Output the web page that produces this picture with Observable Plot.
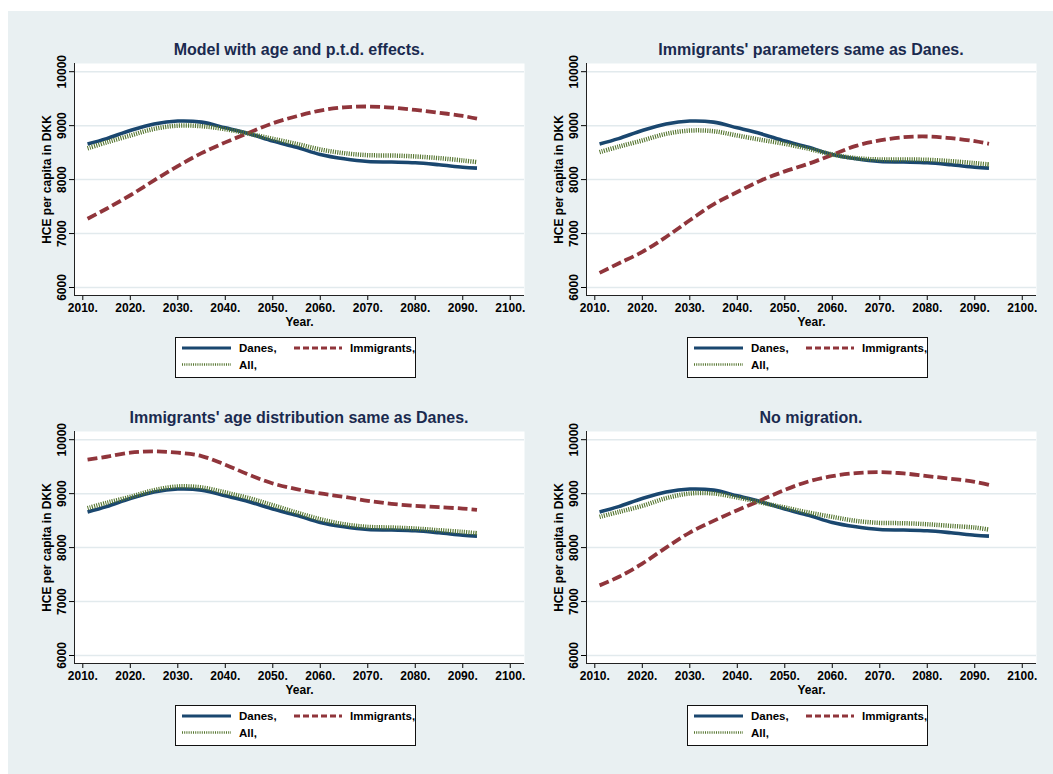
<!DOCTYPE html>
<html>
<head>
<meta charset="utf-8">
<script src="https://cdn.jsdelivr.net/npm/d3@7"></script>
<script src="https://cdn.jsdelivr.net/npm/@observablehq/plot@0.6"></script>
<style>
  body { margin: 0; background: #ffffff; }
  #fig { position: relative; width: 1053px; height: 774px; overflow: hidden;
         font-family: "Liberation Sans", Arial, sans-serif; }
  #bg { position: absolute; left: 8px; top: 11px; right: 0; bottom: 0; background: #e9f0f2; }
  .title { position: absolute; text-align: center; font-weight: bold; font-size: 16px;
           color: #1a2a4f; line-height: 20px; white-space: nowrap; }
  .panel, .legend { position: absolute; }
</style>
</head>
<body>
<div id="fig"><div id="bg"></div></div>
<script>
// Projection years
const years = [2011, 2015, 2020, 2025, 2030, 2035, 2040, 2045, 2050, 2055, 2060, 2065, 2070, 2075, 2080, 2085, 2090, 2093];

// HCE per capita (DKK) for Danes — identical in every scenario
const danes = [8660, 8760, 8910, 9030, 9085, 9065, 8960, 8850, 8715, 8600, 8465, 8385, 8335, 8325, 8312, 8275, 8230, 8212];

// Scenario: model with age and p.t.d. effects
const immigrantsModel = [7275, 7460, 7710, 7985, 8250, 8490, 8690, 8870, 9045, 9175, 9280, 9340, 9355, 9335, 9292, 9240, 9180, 9130];
const allModel        = [8580, 8690, 8817, 8940, 9000, 8990, 8935, 8850, 8756, 8663, 8558, 8490, 8453, 8447, 8429, 8398, 8355, 8324];

// Scenario: immigrants' parameters same as Danes
const immigrantsParams = [6272, 6445, 6660, 6937, 7246, 7542, 7770, 7985, 8152, 8294, 8460, 8625, 8725, 8786, 8799, 8768, 8712, 8663];
const allParams        = [8509, 8610, 8725, 8848, 8909, 8897, 8817, 8737, 8663, 8571, 8466, 8398, 8373, 8373, 8367, 8342, 8305, 8281];

// Scenario: immigrants' age distribution same as Danes
const immigrantsAge = [9629, 9684, 9759, 9783, 9759, 9697, 9536, 9350, 9189, 9084, 9003, 8941, 8867, 8811, 8774, 8749, 8724, 8700];
const allAge        = [8731, 8830, 8941, 9065, 9133, 9115, 9022, 8916, 8786, 8650, 8526, 8433, 8384, 8372, 8353, 8322, 8291, 8266];

// Scenario: no migration
const immigrantsNoMig = [7300, 7455, 7703, 8000, 8279, 8495, 8693, 8879, 9071, 9226, 9325, 9381, 9399, 9375, 9325, 9276, 9220, 9164];
const allNoMig        = [8570, 8660, 8774, 8916, 9003, 9003, 8929, 8836, 8743, 8650, 8570, 8495, 8458, 8452, 8433, 8402, 8372, 8334];

const panelTitles = [
  "Model with age and p.t.d. effects.",
  "Immigrants' parameters same as Danes.",
  "Immigrants' age distribution same as Danes.",
  "No migration."
];
const seriesNames = ["Danes,", "Immigrants,", "All,"];
const xTicks = [2010, 2020, 2030, 2040, 2050, 2060, 2070, 2080, 2090, 2100];
const yTicks = [6000, 7000, 8000, 9000, 10000];
const xLabel = "Year.";
const yLabel = "HCE per capita in DKK";

const panels = [
  {title: panelTitles[0], imm: immigrantsModel,  all: allModel,  col: 0, row: 0},
  {title: panelTitles[1], imm: immigrantsParams, all: allParams, col: 1, row: 0},
  {title: panelTitles[2], imm: immigrantsAge,    all: allAge,    col: 0, row: 1},
  {title: panelTitles[3], imm: immigrantsNoMig,  all: allNoMig,  col: 1, row: 1}
];

// Line styles: solid navy, dashed maroon, hatched-dot green
const styles = [
  {stroke: "#1a476f", strokeWidth: 3.6, dash: null,      legendWidth: 3.2, legendDash: null},
  {stroke: "#90353b", strokeWidth: 3.8, dash: "10,4",    legendWidth: 3.2, legendDash: "6,3"},
  {stroke: "#55752f", strokeWidth: 4.5, dash: "1.1,1.2", legendWidth: 2.6, legendDash: "1,1.2"}
];

const fig = document.getElementById("fig");
const xDomain = [2008.25, 2103];
const yDomain = [5852, 10152];

function series(values) {
  return years.map((year, i) => ({year, value: values[i]}));
}

for (const p of panels) {
  const ox = p.col * 512, oy = p.row * 368;

  const title = document.createElement("div");
  title.className = "title";
  title.style.left = (ox + 74) + "px";
  title.style.width = "450px";
  title.style.top = (oy + 40) + "px";
  title.textContent = p.title;
  fig.appendChild(title);

  const lineData = [danes, p.imm, p.all];
  const chart = Plot.plot({
    width: 510, height: 275,
    marginLeft: 54, marginRight: 6, marginTop: 8, marginBottom: 35,
    style: {background: "transparent", fontFamily: "'Liberation Sans', Arial, sans-serif",
            fontSize: "12px", fontWeight: "bold", color: "#000"},
    x: {domain: xDomain, ticks: xTicks, tickFormat: d => d + ".", tickSize: 5, tickPadding: 3, label: null},
    y: {domain: yDomain, ticks: yTicks, tickFormat: d => String(d), tickSize: 5, tickPadding: 4, tickRotate: -90, label: null},
    marks: [
      Plot.frame({fill: "white", stroke: "none"}),
      Plot.ruleY(yTicks, {stroke: "#e2eaed", strokeWidth: 1.5}),
      Plot.ruleX([xDomain[0]], {stroke: "#222"}),
      Plot.ruleY([yDomain[0]], {stroke: "#222"}),
      ...lineData.map((vals, k) => Plot.line(series(vals), {
        x: "year", y: "value",
        stroke: styles[k].stroke, strokeWidth: styles[k].strokeWidth,
        strokeDasharray: styles[k].dash, strokeLinecap: "butt",
        curve: "catmull-rom"
      })),
      Plot.text([xLabel], {text: d => d, frameAnchor: "bottom", dy: 27, lineAnchor: "middle",
                           fontSize: 12, fontWeight: "bold"}),
      Plot.text([yLabel], {text: d => d, frameAnchor: "left", dx: -27, rotate: -90,
                           lineAnchor: "middle", textAnchor: "middle", fontSize: 12, fontWeight: "bold"})
    ]
  });
  chart.classList.add("panel");
  chart.style.left = (ox + 20) + "px";
  chart.style.top = (oy + 55) + "px";
  fig.appendChild(chart);

  // Legend box beneath the plot
  const lg = d3.create("svg")
    .attr("class", "legend")
    .attr("width", 242).attr("height", 42)
    .style("left", (ox + 175) + "px").style("top", (oy + 337) + "px");
  lg.append("rect").attr("x", 0.5).attr("y", 0.5).attr("width", 240).attr("height", 40)
    .attr("fill", "white").attr("stroke", "#111").attr("stroke-width", 1);
  const entries = [
    {k: 0, x0: 7,   x1: 56,  tx: 64,  cy: 11},
    {k: 1, x0: 119, x1: 167, tx: 175, cy: 11},
    {k: 2, x0: 7,   x1: 56,  tx: 64,  cy: 27.5}
  ];
  for (const e of entries) {
    const s = styles[e.k];
    lg.append("line").attr("x1", e.x0).attr("x2", e.x1).attr("y1", e.cy).attr("y2", e.cy)
      .attr("stroke", s.stroke).attr("stroke-width", s.legendWidth)
      .attr("stroke-dasharray", s.legendDash);
    lg.append("text").attr("x", e.tx).attr("y", e.cy).attr("dy", "0.36em")
      .attr("font-family", "'Liberation Sans', Arial, sans-serif")
      .attr("font-size", 11.5).attr("font-weight", "bold").attr("fill", "#000")
      .text(seriesNames[e.k]);
  }
  fig.appendChild(lg.node());
}
</script>
</body>
</html>
